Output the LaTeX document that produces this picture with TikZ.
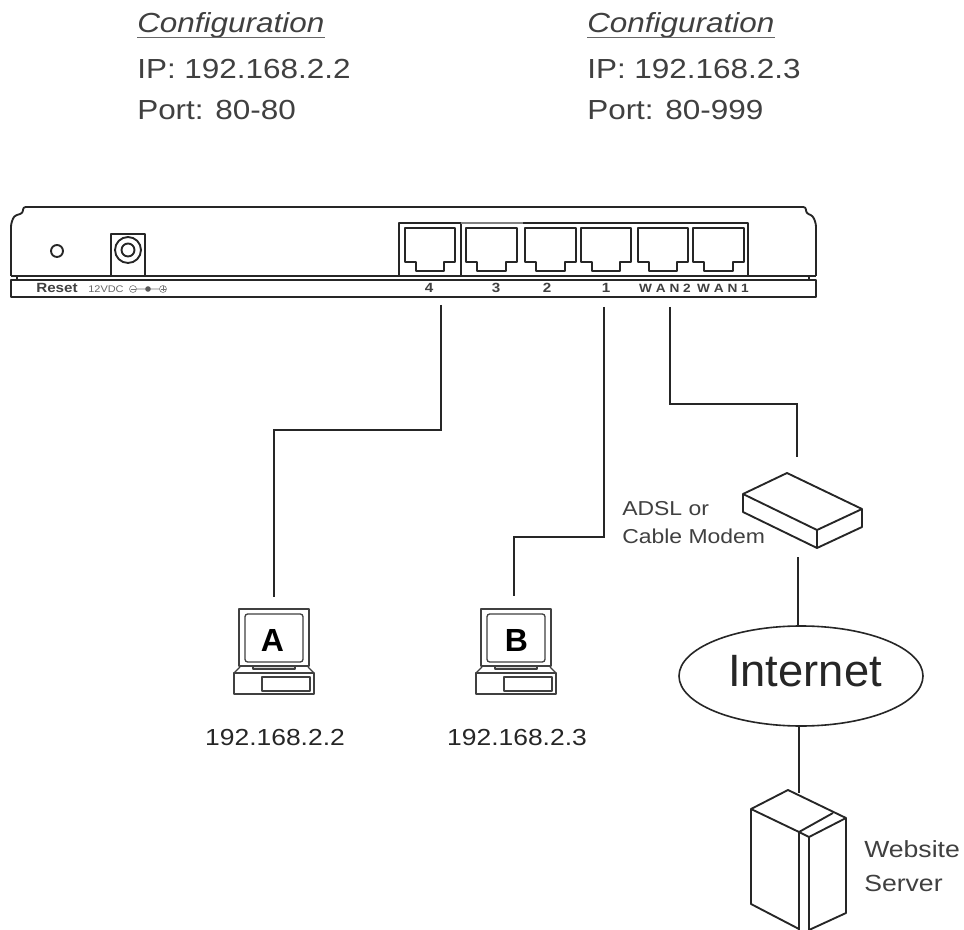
\documentclass[tikz,border=0pt]{standalone}
\usepackage{fontspec}
\usetikzlibrary{shapes.geometric}
\setmainfont[FakeStretch=1.14]{Liberation Sans}
\newfontfamily\plainf{Liberation Sans}
\newcommand{\fs}[1]{\fontsize{#1}{#1}\selectfont}
\tikzset{
 x=0.75pt,y=-0.75pt,
 dev/.style={line width=1.4pt,draw=black!85,line join=round},
 wire/.style={line width=1.1pt,draw=black!85},
 thin dev/.style={line width=1pt,draw=black!75,line join=round},
 lab/.style={inner sep=0pt,text=black!75,anchor=base west},
 toplab/.style={lab,font=\fs{20.7}},
 cfg/.style={lab,font=\fs{20.7}\itshape},
 plab/.style={inner sep=0pt,text=black!75,anchor=base,font=\fs{10}\bfseries},
 wanlab/.style={plab,font=\fs{9}\bfseries},
 net/.style={inner sep=0pt,text=black!85,anchor=base},
 rule/.style={line width=1.3pt,draw=black!60}
}
\newcommand{\jack}[2]{% left x, right x
 \draw[dev] (#1,228)--(#2,228)--(#2,262)--({#2-11},262)--({#2-11},271)--({#1+11},271)--({#1+11},262)--(#1,262)--cycle;}
\newcommand{\pc}[4]{% shift, name, letter, letter x
 \begin{scope}[xshift=#1*0.75pt]
 \draw[thin dev] (239,609) rectangle (309,666);
 \draw[thin dev,rounded corners=2pt] (245,614) rectangle (303,662);
 \draw[thin dev,fill=black!15] (253,666) rectangle (295,669);
 \draw[thin dev] (240,667)--(234,673)--(314,673)--(308,667);
 \draw[thin dev] (234,673) rectangle (314,694);
 \draw[thin dev] (262,677) rectangle (310,691);
 \node[inner sep=0pt,font=\plainf\fs{24}\bfseries] (#2) at (#4,640) {#3};
 \end{scope}}
\begin{document}
\begin{tikzpicture}
\useasboundingbox (0,0) rectangle (964,930);
\fill[white] (0,0) rectangle (964,930);
% configuration texts
\node[cfg] (c1) at (137,33) {Configuration};
\draw[rule] (c1.base west)+(0,4.5) -- ++(188,4.5);
\node[toplab] (ip1) at (137,79) {IP: 192.168.2.2};
\node[toplab] (pt1) at (137,120) {Port: 80-80};
\node[cfg] (c2) at (587,33) {Configuration};
\draw[rule] (c2.base west)+(0,4.5) -- ++(188,4.5);
\node[toplab] (ip2) at (587,79) {IP: 192.168.2.3};
\node[toplab] (pt2) at (587,120) {Port: 80-999};
% router
\draw[dev,rounded corners=2pt] (11,276)--(11,224)--(14,216)--(23,213)--(23,207)--(806,207)--(806,213)--(813,216)--(816,224)--(816,276);
\draw[dev] (11,276)--(816,276);
\draw[dev] (11,280) rectangle (816,297);
\draw[dev] (17,276)--(17,280) (809,276)--(809,280);
\draw[dev] (57,251) circle (6);
\draw[dev] (111,276)--(111,234)--(145,234)--(145,276);
\draw[dev] (128,250) circle (13);
\draw[dev] (128,250) circle (6.5);
\draw[dev] (399,276)--(399,223)--(461,223)--(461,276);
\draw[line width=1.4pt,black!50] (461,223)--(523,223);
\draw[dev] (523,223)--(748,223)--(748,276);
\jack{405}{455}\jack{466}{517}\jack{525}{576}\jack{581}{631}\jack{638}{688}\jack{693}{744}
\node[plab] (reset) at (57,293) {Reset};
\node[inner sep=0pt,anchor=base,font=\fs{7.2},text=black!60] (vdc) at (106,293) {12VDC};
\draw[line width=.4pt,black!55] (133,289) circle (3.5) (163,289) circle (3.5) (136.5,289)--(159.5,289);
\draw[line width=.4pt,black!55] (130.5,289)--(135.5,289) (163,286.5)--(163,291.5) (160.5,289)--(165.5,289);
\fill[black!65] (148,289) circle (2.8);
\node[plab] (p4) at (429,293) {4};
\node[plab] (p3) at (496,293) {3};
\node[plab] (p2) at (547,293) {2};
\node[plab] (p1) at (606,293) {1};
\node[wanlab] (w2) at (665,293) {W A N 2};
\node[wanlab] (w1) at (723,293) {W A N 1};
% computers
\pc{0}{pca}{A}{272.5}
\pc{242}{pcb}{B}{274.5}
\node[net,font=\fs{17.4}] (ipa) at (275,745) {192.168.2.2};
\node[net,font=\fs{17.4}] (ipb) at (517,745) {192.168.2.3};
% modem
\draw[dev] (787,473)--(862,509)--(817,530)--(743,494)--cycle;
\draw[dev] (743,494)--(743,512)--(817,548)--(862,527)--(862,509);
\draw[dev] (817,530)--(817,548);
\coordinate (mtop) at (797,457);
\coordinate (mbot) at (798,557);
\node[lab,font=\fs{15.1}] (adsl) at (622,515) {ADSL or};
\node[lab,font=\fs{15.1}] (cable) at (622,543) {Cable Modem};
% internet
\node[draw=black!85,line width=1.2pt,ellipse,minimum width=244*0.75pt,minimum height=100*0.75pt,inner sep=0pt] (inet) at (801,676) {};
\node[net,font=\plainf\fs{34}] (inettext) at (805,686) {Internet};
% server
\draw[dev] (788,790)--(846,818)--(809,837)--(799,832)--(751,809)--cycle;
\draw[dev] (799,832)--(833,813);
\draw[dev] (751,809)--(751,904)--(799,929);
\draw[dev] (799,832)--(799,930) (809,837)--(809,930);
\draw[dev] (846,818)--(846,913)--(809,930);
\coordinate (srv) at (799,793);
\node[lab,font=\fs{17.5}] (web) at (864,857) {Website};
\node[lab,font=\fs{17.5}] (srvt) at (864,891) {Server};
% wires
\coordinate (u4) at (441,305);\coordinate (u1) at (604,307);\coordinate (u2) at (670,307);
\coordinate (pa) at (274,597);\coordinate (pb) at (514,596);
\draw[wire] (u4)--(441,430)--(274,430)--(pa);
\draw[wire] (u1)--(604,537)--(514,537)--(pb);
\draw[wire] (u2)--(670,404)--(797,404)--(mtop);
\draw[wire] (mbot)--(mbot |- inet.north);
\draw[wire] (srv |- inet.south)--(srv);
\end{tikzpicture}
\end{document}
